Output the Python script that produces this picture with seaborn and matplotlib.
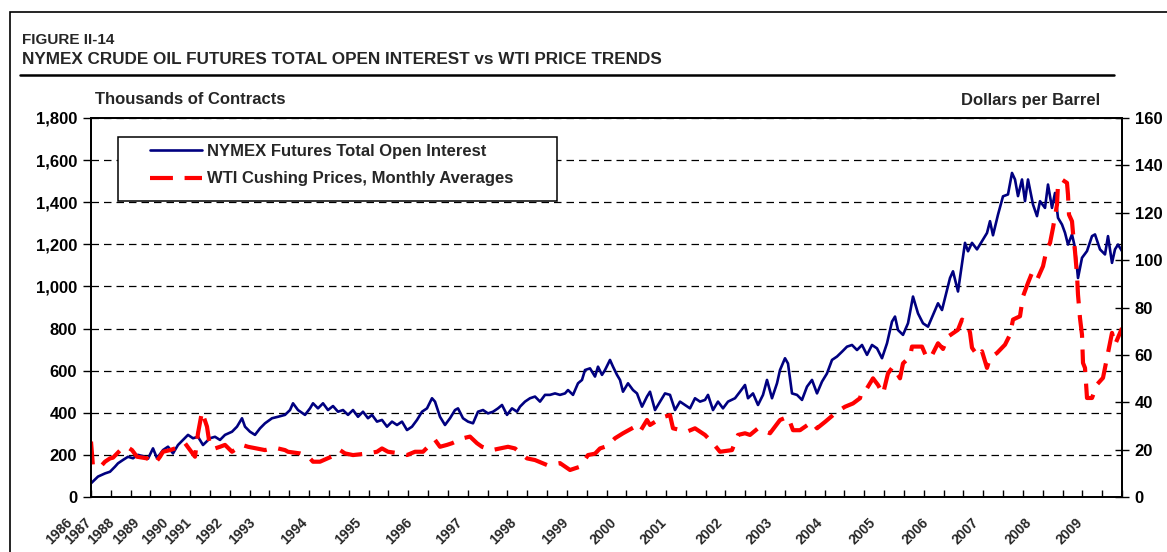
import numpy as np
import pandas as pd
import matplotlib
matplotlib.use("Agg")
import matplotlib.pyplot as plt
import matplotlib.transforms as mtransforms
from matplotlib.patches import Rectangle
from matplotlib.lines import Line2D
import seaborn as sns

# ---------------- data (positions along the category axis, 0..1031) ----------------
oi_pos = [0, 7, 14, 19, 24, 27, 32, 37, 42, 47, 52, 57, 62, 66, 72, 77, 82, 87, 92, 97,
          102, 107, 112, 119, 124, 129, 134, 141, 146, 151, 154, 159, 164, 169, 174, 181, 187, 194, 199, 202,
          207, 214, 219, 222, 227, 232, 237, 242, 247, 252, 257, 262, 267, 272, 277, 281, 286, 291, 296, 301,
          306, 311, 316, 321, 326, 331, 336, 341, 344, 349, 354, 359, 364, 367, 372, 377, 382, 387, 392, 397,
          402, 407, 411, 416, 421, 426, 429, 434, 439, 444, 449, 454, 459, 464, 469, 474, 477, 482, 487, 491,
          494, 499, 504, 507, 511, 514, 519, 522, 526, 529, 532, 537, 542, 546, 551, 556, 559, 564, 569, 574,
          579, 584, 589, 594, 599, 604, 609, 614, 617, 622, 627, 632, 637, 644, 649, 654, 657, 662, 667, 672,
          676, 681, 686, 689, 694, 697, 701, 706, 711, 716, 721, 726, 731, 736, 741, 746, 751, 756, 761, 766,
          771, 776, 781, 786, 791, 796, 801, 804, 807, 812, 817, 822, 827, 832, 837, 842, 847, 851, 856, 859,
          862, 867, 874, 877, 881, 886, 891, 896, 899, 902, 907, 912, 917, 921, 924, 927, 931, 934, 937, 942,
          946, 949, 954, 957, 961, 964, 967, 971, 974, 977, 981, 984, 987, 991, 996, 1001, 1004, 1009, 1014, 1017,
          1021, 1024, 1027, 1031]
oi_vals = [65, 97, 112, 120, 144, 160, 176, 191, 184, 200, 194, 182, 231, 184, 223, 239, 207, 247, 271, 295,
           279, 286, 247, 279, 286, 271, 295, 310, 334, 374, 334, 310, 295, 326, 350, 374, 381, 390, 413, 445,
           413, 390, 421, 445, 421, 445, 413, 432, 405, 413, 390, 413, 381, 405, 374, 390, 358, 366, 334, 358,
           342, 358, 318, 334, 366, 405, 421, 469, 453, 381, 342, 374, 413, 421, 374, 358, 350, 405, 413, 397,
           405, 421, 437, 390, 421, 405, 429, 453, 469, 477, 453, 485, 485, 492, 485, 492, 508, 485, 540, 556,
           603, 611, 572, 619, 580, 603, 651, 619, 580, 556, 500, 540, 508, 492, 429, 477, 500, 413, 453, 492,
           485, 413, 453, 437, 421, 469, 453, 461, 485, 413, 453, 421, 453, 469, 500, 532, 469, 492, 437, 485,
           556, 469, 540, 603, 659, 634, 492, 485, 461, 524, 556, 492, 548, 587, 651, 667, 690, 714, 722, 698,
           722, 675, 722, 706, 659, 730, 833, 857, 793, 770, 825, 952, 872, 825, 809, 864, 920, 888, 983, 1040,
           1072, 976, 1207, 1167, 1207, 1176, 1215, 1254, 1310, 1243, 1341, 1428, 1437, 1539, 1508, 1429, 1508, 1405, 1508, 1389,
           1334, 1405, 1373, 1484, 1373, 1444, 1326, 1294, 1255, 1199, 1247, 1184, 1040, 1136, 1168, 1239, 1247, 1176, 1152, 1239,
           1112, 1176, 1199, 1168]

wti_pos = [0, 2, 11, 14, 19, 22, 31, 36, 41, 46, 56, 61, 64, 69, 72, 79, 84, 89, 94, 104,
           107, 111, 116, 119, 124, 129, 134, 141, 146, 151, 157, 174, 181, 187, 194, 197, 209, 214, 219, 222,
           229, 244, 249, 254, 262, 277, 286, 291, 297, 309, 316, 324, 332, 344, 349, 356, 361, 372, 379, 386,
           391, 401, 409, 417, 424, 436, 444, 456, 469, 479, 489, 497, 504, 509, 516, 524, 532, 541, 544, 549,
           556, 559, 571, 579, 582, 596, 604, 614, 622, 629, 641, 647, 654, 659, 667, 679, 689, 697, 702, 709,
           721, 726, 734, 746, 754, 762, 769, 771, 776, 782, 787, 792, 797, 802, 809, 812, 819, 821, 831, 836,
           841, 847, 852, 857, 867, 871, 876, 879, 881, 887, 891, 896, 899, 906, 914, 919, 922, 929, 932, 937,
           941, 946, 952, 956, 959, 962, 966, 967, 971, 976, 977, 978, 981, 982, 984, 986, 987, 989, 991, 992,
           994, 996, 1001, 1006, 1012, 1016, 1021, 1024, 1031]
wti_vals = [23.4, 12.8, 13.5, 14.9, 16.3, 16.6, 20.5, 21.2, 19.8, 17.0, 16.3, 14.9, 14.2, 17.0, 19.1, 19.8, 20.5, 21.2, 22.7, 17.0,
            26.9, 36.0, 29.7, 21.2, 20.5, 21.2, 22.0, 19.1, 20.5, 22.0, 21.2, 19.8, 20.5, 20.5, 19.8, 19.1, 18.4, 17.7, 16.3, 14.9,
            14.9, 17.7, 19.8, 18.4, 17.7, 18.4, 19.1, 20.5, 19.1, 18.4, 17.7, 19.1, 19.1, 24.1, 21.2, 22.0, 22.7, 24.8, 25.5, 22.7,
            21.2, 19.8, 20.5, 21.2, 20.5, 16.3, 15.6, 13.5, 14.3, 11.4, 12.8, 17.7, 18.3, 20.5, 21.5, 24.8, 26.9, 29.0, 29.7, 27.6,
            32.5, 30.4, 33.6, 34.6, 29.0, 27.6, 29.0, 26.2, 22.7, 19.1, 19.8, 26.2, 26.9, 26.2, 29.0, 26.9, 32.5, 33.9, 28.2, 28.2,
            31.7, 29.0, 31.7, 36.0, 38.1, 39.5, 41.7, 45.2, 45.9, 50.1, 47.3, 43.5, 52.2, 55.0, 50.1, 56.4, 59.2, 63.5, 63.5, 58.5,
            59.9, 64.9, 62.5, 67.7, 70.6, 74.9, 73.5, 69.4, 63.0, 59.4, 61.5, 54.5, 58.7, 60.8, 64.3, 68.5, 74.9, 76.3, 84.7, 90.4,
            94.6, 91.7, 97.4, 105.1, 107.2, 113.6, 123.4, 131.9, 134.0, 132.6, 127.6, 119.2, 116.4, 111.5, 103.7, 93.9, 85.4, 75.5, 68.5, 56.6,
            54.5, 41.8, 41.8, 47.5, 50.3, 58.7, 69.3, 64.3, 71.3]

year_labels = [str(y) for y in range(1986, 2010)]
year_pos = [-21, -2, 21, 46, 75, 98, 129, 162, 214, 268, 319, 369, 423, 475, 524, 574,
            629, 680, 730, 783, 836, 886, 939, 990]

oi_ticks = list(range(0, 1801, 200))
wti_ticks = list(range(0, 161, 20))

series_names = ["NYMEX Futures Total Open Interest", "WTI Cushing Prices, Monthly Averages"]

# ---------------- figure ----------------
sns.set_theme(style="white")
plt.rcParams["font.family"] = ["Liberation Sans", "DejaVu Sans"]

W, H = 1167, 552
fig = plt.figure(figsize=(W / 100, H / 100), dpi=100)
fig.patch.set_facecolor("white")

def fx(px):
    return px / W

def fy(py):
    return 1 - py / H

ax = fig.add_axes([fx(91), fy(497), (1122 - 91) / W, (497 - 118) / H])
ax2 = ax.twinx()

NAVY = "#000080"
RED = "#FF0000"

oi_df = pd.DataFrame({"pos": oi_pos, "val": oi_vals})
wti_df = pd.DataFrame({"pos": wti_pos, "val": wti_vals})

sns.lineplot(data=oi_df, x="pos", y="val", ax=ax, color=NAVY, linewidth=1.9, sort=False)
sns.lineplot(data=wti_df, x="pos", y="val", ax=ax2, color=RED, linewidth=3.0, sort=False)
for ln in ax2.lines:
    ln.set_linestyle((0, (5.5, 2.8)))
    ln.set_solid_capstyle("butt")
    ln.set_dash_capstyle("butt")

ax.set_xlim(0, 1031)
ax.set_ylim(0, 1800)
ax2.set_ylim(0, 160)
ax.set_xlabel("")
ax.set_ylabel("")
ax2.set_xlabel("")
ax2.set_ylabel("")

# left axis
ax.set_yticks(oi_ticks)
ax.set_yticklabels([f"{v:,}" for v in oi_ticks], fontweight="bold", fontsize=12)
ax.tick_params(axis="y", left=True, direction="out", length=6, width=1, colors="black", pad=4)
ax.yaxis.grid(True, color="black", linewidth=0.9, linestyle=(0, (6, 4)))
ax.xaxis.grid(False)

# bottom axis ticks (no labels)
ax.set_xticks(np.linspace(0, 1031, 53))
ax.set_xticklabels([])
ax.tick_params(axis="x", bottom=True, direction="in", length=5, width=1, colors="black")

# right axis
ax2.set_yticks(wti_ticks)
ax2.set_yticklabels([str(v) for v in wti_ticks], fontweight="bold", fontsize=12)
ax2.tick_params(axis="y", right=True, direction="inout", length=10, width=1, colors="black", pad=4)
ax2.grid(False)

for a in (ax, ax2):
    for s in a.spines.values():
        s.set_color("black")
        s.set_linewidth(1.3)
    a.patch.set_alpha(0)
ax.patch.set_alpha(1)
ax.patch.set_facecolor("white")

# year labels
trans = mtransforms.blended_transform_factory(ax.transData, ax.transAxes)
for lab, p in zip(year_labels, year_pos):
    ax.text(p, -0.062, lab, transform=trans, rotation=45, ha="right", va="center",
            rotation_mode="anchor", fontsize=10, fontweight="bold", clip_on=False)

# legend box + legend
ax2.add_patch(Rectangle((fx(118), fy(201)), (557 - 118) / W, (201 - 137) / H,
                        transform=fig.transFigure, facecolor="white", edgecolor="black",
                        linewidth=1.1, zorder=4, clip_on=False))
handles = [Line2D([], [], color=NAVY, linewidth=1.9),
           Line2D([], [], color=RED, linewidth=3.0, linestyle=(0, (5.5, 2.8)))]
leg = ax2.legend(handles, series_names, loc="upper left", bbox_to_anchor=(fx(150), fy(144)),
                 bbox_transform=fig.transFigure, frameon=False, borderpad=0, borderaxespad=0,
                 handlelength=3.1, handletextpad=0.3, labelspacing=0.75,
                 prop={"weight": "bold", "size": 12})
leg.set_zorder(6)

# headers
fig.text(fx(22), fy(40), "FIGURE II-14", fontsize=11, fontweight="bold", va="center", ha="left")
fig.text(fx(22), fy(60), "NYMEX CRUDE OIL FUTURES TOTAL OPEN INTEREST vs WTI PRICE TRENDS",
         fontsize=12.3, fontweight="bold", va="center", ha="left")
fig.text(fx(95), fy(100), "Thousands of Contracts", fontsize=12, fontweight="bold", va="center", ha="left")
fig.text(fx(1100), fy(100), "Dollars per Barrel", fontsize=12, fontweight="bold", va="center", ha="right")

fig.add_artist(Line2D([fx(20), fx(1114)], [fy(75), fy(75)], transform=fig.transFigure,
                      color="black", linewidth=1.8))
# outer frame (runs off the right and bottom edges)
fig.add_artist(Rectangle((fx(10), -0.2), 1.5, fy(12) + 0.2, transform=fig.transFigure,
                         fill=False, edgecolor="black", linewidth=1.2))

fig.savefig("out.png", dpi=100)
